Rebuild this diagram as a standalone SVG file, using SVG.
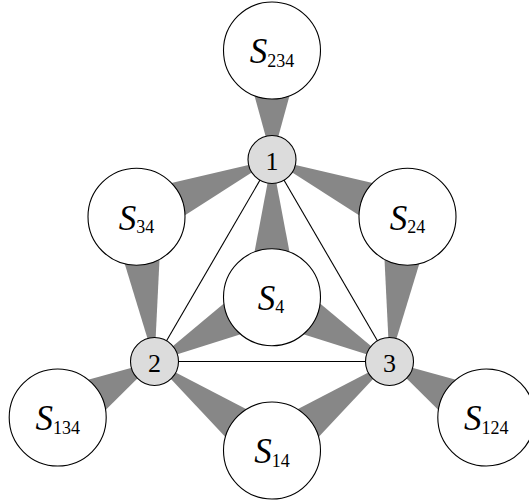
<svg xmlns="http://www.w3.org/2000/svg" width="529" height="504" viewBox="0 0 529 504">
<style>
.wedge{fill:#878787;stroke:none}
.edge{stroke:#000;stroke-width:1.1;fill:none}
.big{fill:#fff;stroke:#000;stroke-width:1.1}
.small{fill:#dcdcdc;stroke:#000;stroke-width:1.1}
.lbl{font-family:"Liberation Serif","Times New Roman",serif;text-anchor:middle;fill:#000}
.s{font-style:italic;font-size:35px}
.sub{font-size:18px}
.num{font-family:"Liberation Serif","Times New Roman",serif;font-size:26px;text-anchor:middle;fill:#000}
</style>
<rect width="529" height="504" fill="#fff"/>
<g id="connectors">
<polygon class="wedge" points="254.5,95.7 289.5,95.7 272,159.5"/>
<polygon class="wedge" points="171.4,183.0 185.0,215.2 272,159.5"/>
<polygon class="wedge" points="124.7,263.8 159.5,259.4 154.5,361.5"/>
<polygon class="wedge" points="372.6,183.0 359.0,215.2 272,159.5"/>
<polygon class="wedge" points="419.3,263.8 384.5,259.4 389.5,361.5"/>
<polygon class="wedge" points="254.5,252 289.5,252 272,159.5"/>
<polygon class="wedge" points="223.9,303.6 240.7,334.3 154.5,361.5"/>
<polygon class="wedge" points="320.1,303.6 303.3,334.3 389.5,361.5"/>
<polygon class="wedge" points="88.1,379.7 105.6,410.0 154.5,361.5"/>
<polygon class="wedge" points="455.9,379.7 438.4,410.0 389.5,361.5"/>
<polygon class="wedge" points="246.5,409.2 225.4,437.1 154.5,361.5"/>
<polygon class="wedge" points="297.5,409.2 318.6,437.1 389.5,361.5"/>
<line class="edge" x1="272" y1="159.5" x2="154.5" y2="361.5"/>
<line class="edge" x1="272" y1="159.5" x2="389.5" y2="361.5"/>
<line class="edge" x1="154.5" y1="361.5" x2="389.5" y2="361.5"/>
</g>
<g id="S234"><circle class="big" cx="272" cy="50.5" r="48.5"/><text class="lbl" x="272" y="63.3"><tspan class="s">S</tspan><tspan class="sub" dy="3.3">234</tspan></text></g>
<g id="S34"><circle class="big" cx="136.5" cy="216.7" r="48.5"/><text class="lbl" x="136.5" y="229.5"><tspan class="s">S</tspan><tspan class="sub" dy="3.3">34</tspan></text></g>
<g id="S24"><circle class="big" cx="407.5" cy="216.7" r="48.5"/><text class="lbl" x="407.5" y="229.5"><tspan class="s">S</tspan><tspan class="sub" dy="3.3">24</tspan></text></g>
<g id="S4"><circle class="big" cx="272" cy="297.2" r="48.5"/><text class="lbl" x="271" y="310"><tspan class="s">S</tspan><tspan class="sub" dy="3.3">4</tspan></text></g>
<g id="S134"><circle class="big" cx="57.7" cy="417.5" r="48.5"/><text class="lbl" x="57.7" y="430.3"><tspan class="s">S</tspan><tspan class="sub" dy="3.3">134</tspan></text></g>
<g id="S14"><circle class="big" cx="272" cy="450.5" r="48.5"/><text class="lbl" x="272" y="463.3"><tspan class="s">S</tspan><tspan class="sub" dy="3.3">14</tspan></text></g>
<g id="S124"><circle class="big" cx="486.3" cy="417.5" r="48.5"/><text class="lbl" x="486.3" y="430.3"><tspan class="s">S</tspan><tspan class="sub" dy="3.3">124</tspan></text></g>
<g id="n1"><circle class="small" cx="272" cy="159.5" r="24"/><text class="num" x="272" y="169.5">1</text></g>
<g id="n2"><circle class="small" cx="154.5" cy="361.5" r="24"/><text class="num" x="154.5" y="371.5">2</text></g>
<g id="n3"><circle class="small" cx="389.5" cy="361.5" r="24"/><text class="num" x="389.5" y="371.5">3</text></g>
</svg>
